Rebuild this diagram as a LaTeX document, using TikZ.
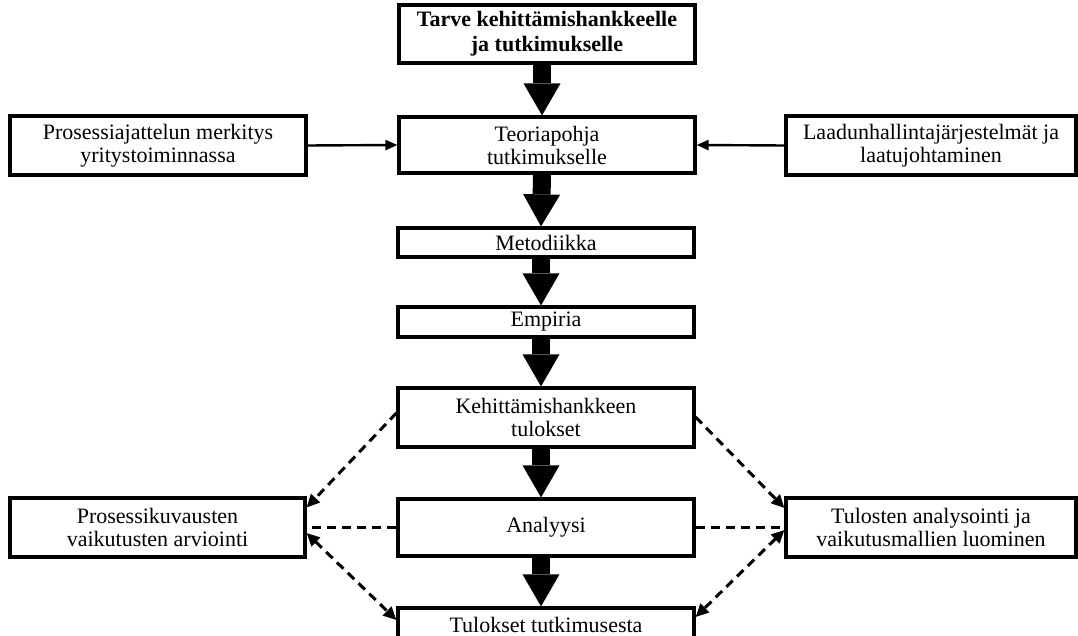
\documentclass[tikz,border=0pt]{standalone}
\usepackage{fontspec}
\setmainfont{Liberation Serif}
\usetikzlibrary{arrows.meta}
\begin{document}
\begin{tikzpicture}[x=1pt,y=-1pt,
  box/.style={draw,line width=3.2pt,inner sep=0pt,align=center,
    minimum width=296pt,font=\fontsize{22}{23}\selectfont},
  sidebox/.style={box,minimum width=296pt,minimum height=59pt},
  bigarrow/.style={line width=18pt,
    -{Triangle[length=32pt,width=37pt,line width=0pt]}},
  thinarrow/.style={line width=2.4pt,-{Triangle[length=12pt,width=10pt]}},
  dashline/.style={line width=3pt,dash pattern=on 9pt off 6pt},
  dasharrow/.style={dashline,-{Triangle[length=13pt,width=12pt]}},
  dashboth/.style={dashline,{Triangle[length=13pt,width=12pt]}-{Triangle[length=13pt,width=12pt]}}]
\useasboundingbox (0,0) rectangle (1078,636);
\fill[white] (0,0) rectangle (1078,636);
\clip (0,0) rectangle (1078,636);

% main column
\node[box,minimum height=58pt,font=\bfseries\fontsize{22}{25}\selectfont] (need) at (547,34)
  {Tarve kehittämishankkeelle\\ja tutkimukselle};
\node[box,minimum height=56pt] (theory) at (547,145) {Teoriapohja\\tutkimukselle};
\node[box,minimum height=29pt] (method) at (546,242.5) {Metodiikka};
\node[box,minimum height=30pt] (emp) at (546,322) {Empiria};
\node[box,minimum height=59pt] (devres) at (546,417.5) {Kehittämishankkeen\\tulokset};
\node[box,minimum height=57pt] (anal) at (546,527.5) {Analyysi};
\node[box,minimum height=34pt] (final) at (546,625) {Tulokset tutkimusesta};

% side boxes
\node[sidebox] (proc) at (158,145.5) {Prosessiajattelun merkitys\\yritystoiminnassa};
\node[sidebox,minimum width=290pt] (qual) at (931,145.5) {Laadunhallintajärjestelmät ja\\laatujohtaminen};
\node[sidebox,minimum width=295pt] (eval) at (157.5,527.5) {Prosessikuvausten\\vaikutusten arviointi};
\node[sidebox,minimum width=290pt] (model) at (931,527.5) {Tulosten analysointi ja\\vaikutusmallien luominen};

% flow down the main column
\foreach \a/\b in {need/theory,theory/method,method/emp,emp/devres,devres/anal,anal/final}
  \draw[bigarrow] ([xshift=-5pt]\a.south) -- ([xshift=-5pt]\b.north);

% inputs to the theory base
\draw[thinarrow] (proc.east) -- (theory.west);
\draw[thinarrow] (qual.west) -- (theory.east);

% dashed links on the left
\draw[dasharrow] ([yshift=4.5pt]devres.west) -- ([yshift=20pt]eval.east);
\draw[dashline] (anal.west) -- (eval.east);
\draw[dashboth] ([yshift=-5.5pt]eval.east) -- ([yshift=5pt]final.west);

% dashed links on the right
\draw[dasharrow] ([yshift=0.5pt]devres.east) -- ([yshift=19.5pt]model.west);
\draw[dashline] (anal.east) -- (model.west);
\draw[dashboth] ([yshift=-2.5pt]model.west) -- ([yshift=8pt]final.east);
\end{tikzpicture}
\end{document}
